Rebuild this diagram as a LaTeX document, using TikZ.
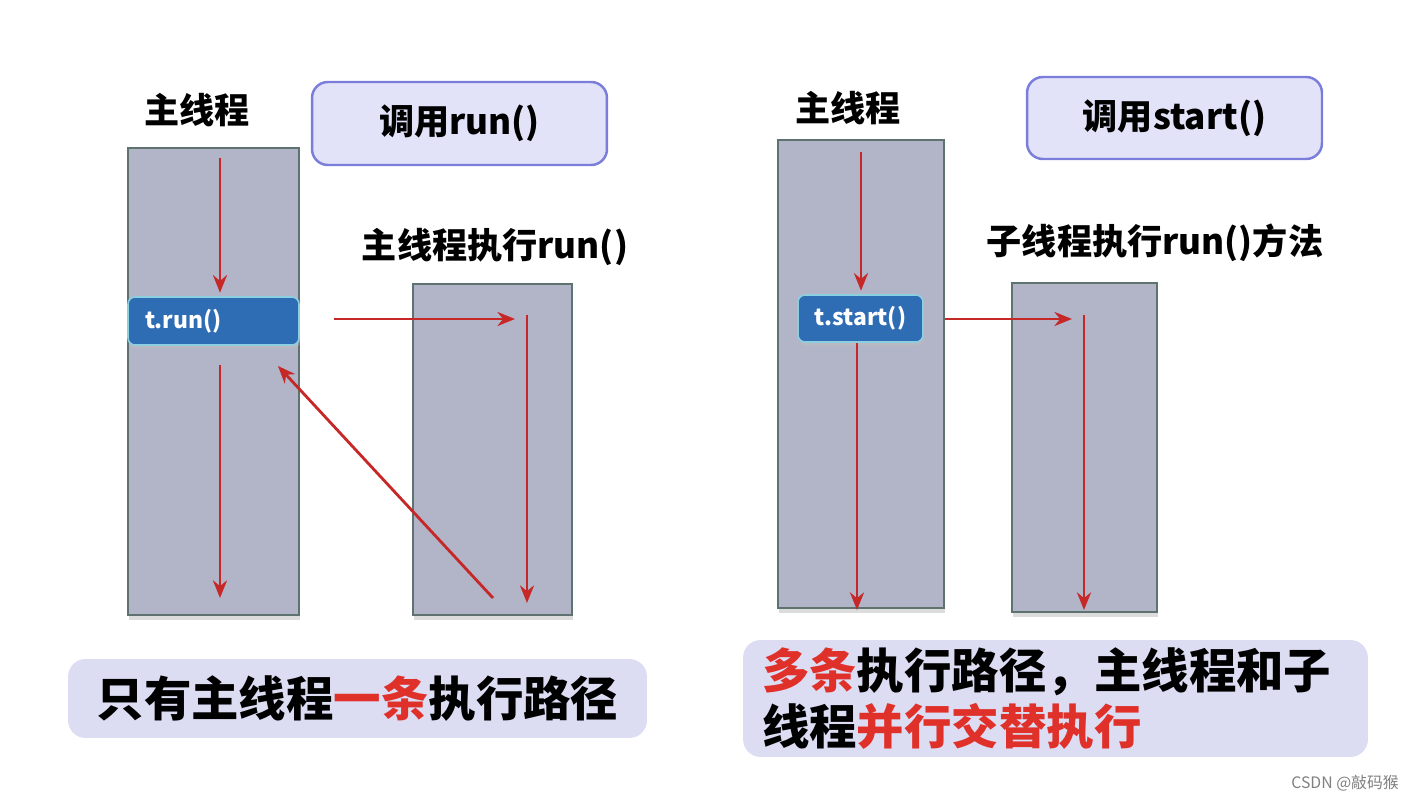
\documentclass[tikz,border=0pt]{standalone}
\usepackage{fontspec}
\setmainfont{Noto Sans CJK SC}
\usetikzlibrary{arrows.meta, positioning, shadows}
\definecolor{thfill}{HTML}{B2B4C8}
\definecolor{thedge}{HTML}{5E7370}
\definecolor{thblue}{HTML}{2E6DB4}
\definecolor{thcyan}{HTML}{8CCFE0}
\definecolor{thred}{HTML}{C62828}
\definecolor{thtext}{HTML}{E0302A}
\definecolor{thlav}{HTML}{E2E2F8}
\definecolor{thlavedge}{HTML}{7A7EDA}
\definecolor{thnote}{HTML}{DCDDF3}

\begin{document}
\begin{tikzpicture}[
  x=0.02cm, y=-0.02cm,
  thread/.style={rectangle, draw=thedge, fill=thfill, line width=1.6pt,
                 drop shadow={shadow xshift=0.5pt,
                              shadow yshift=-3pt, fill=gray!55}},
  callbox/.style={rectangle, draw=thlavedge, fill=thlav, line width=1.4pt,
                  rounded corners=9pt,
                  font=\fontsize{20}{24}\selectfont\bfseries},
  tbox/.style={rectangle, draw=thcyan, fill=thblue, line width=0.9pt,
               rounded corners=4pt, text=white,
               font=\fontsize{13}{15}\selectfont\bfseries,
               drop shadow={shadow xshift=0.5pt,
                            shadow yshift=-2pt, fill=gray!50}},
  title/.style={font=\fontsize{20}{24}\selectfont\bfseries},
  note/.style={rectangle, fill=thnote, rounded corners=10pt,
               font=\fontsize{27}{32}\selectfont\bfseries},
  arr/.style={-{Stealth[length=10pt, width=8pt]}, line width=1.6pt, color=thred}
]
  \useasboundingbox (0,0) rectangle (1410,800);

  % left: run()
  \node[thread, minimum width=3.42cm, minimum height=9.34cm] (mainA) at (213.5,381.5) {};
  \node[thread, minimum width=3.18cm, minimum height=6.62cm] (runA)  at (492.5,449.5) {};
  \node[callbox, minimum width=5.9cm, minimum height=1.66cm] (callA) at (459.5,123.5) {调用run()};
  \node[tbox, minimum width=3.42cm, minimum height=0.96cm, inner xsep=0.34cm,
        text width=2.74cm, align=left] (trun) at (213.5,321) {t.run()};
  \node[title] (headA) at (197,110) {主线程};
  \node[title] (subA)  at (495,247) {主线程执行run()};

  \coordinate (a1) at (220,158);
  \coordinate (a2) at (220,365);
  \coordinate (a3) at (220,598);
  \coordinate (h1) at (334,319);
  \coordinate (h2) at (515,319);
  \coordinate (v1) at (527,315);
  \coordinate (v2) at (527,603);
  \coordinate (d1) at (493,598);
  \coordinate (d2) at (278,366);

  \draw[arr, shorten >=2pt] (a1) -- (a1 |- trun.north);
  \draw[arr] (a2) -- (a3);
  \draw[arr] (h1) -- (h2);
  \draw[arr] (v1) -- (v2);
  \draw[arr] (d1) -- (d2);

  \node[note, minimum width=11.58cm, minimum height=1.58cm] (noteA) at (357.5,698.5)
    {只有主线程\textcolor{thtext}{一条}执行路径};

  % right: start()
  \node[thread, minimum width=3.32cm, minimum height=9.36cm] (mainB)  at (861,374) {};
  \node[thread, minimum width=2.9cm, minimum height=6.58cm]  (childB) at (1084.5,447.5) {};
  \node[callbox, minimum width=5.9cm, minimum height=1.64cm] (callB)  at (1174.5,118) {调用start()};
  \node[tbox, minimum width=2.5cm, minimum height=0.94cm] (tstart) at (860.5,318.5) {t.start()};
  \node[title] (headB) at (848,108) {主线程};
  \node[title] (subB)  at (1155,243) {子线程执行run()方法};

  \coordinate (b1) at (861,152);
  \coordinate (b2) at (857,610);
  \coordinate (g1) at (945,319);
  \coordinate (g2) at (1072,319);
  \coordinate (w1) at (1084,315);
  \coordinate (w2) at (1084,610);

  \draw[arr, shorten >=2pt] (b1) -- (b1 |- tstart.north);
  \draw[arr] (tstart.south -| b2) -- (b2);
  \draw[arr] (g1) -- (g2);
  \draw[arr] (w1) -- (w2);

  \node[note, minimum width=12.5cm, minimum height=2.34cm, inner xsep=0.38cm,
        text width=11.74cm, align=left] (noteB) at (1055.5,698.5)
    {\textcolor{thtext}{多条}执行路径，主线程和子\\
     线程\textcolor{thtext}{并行交替执行}};

  \node[font=\fontsize{9}{10}\selectfont, text=gray] (mark) at (1345,783) {CSDN @敲码猴};
\end{tikzpicture}
\end{document}
